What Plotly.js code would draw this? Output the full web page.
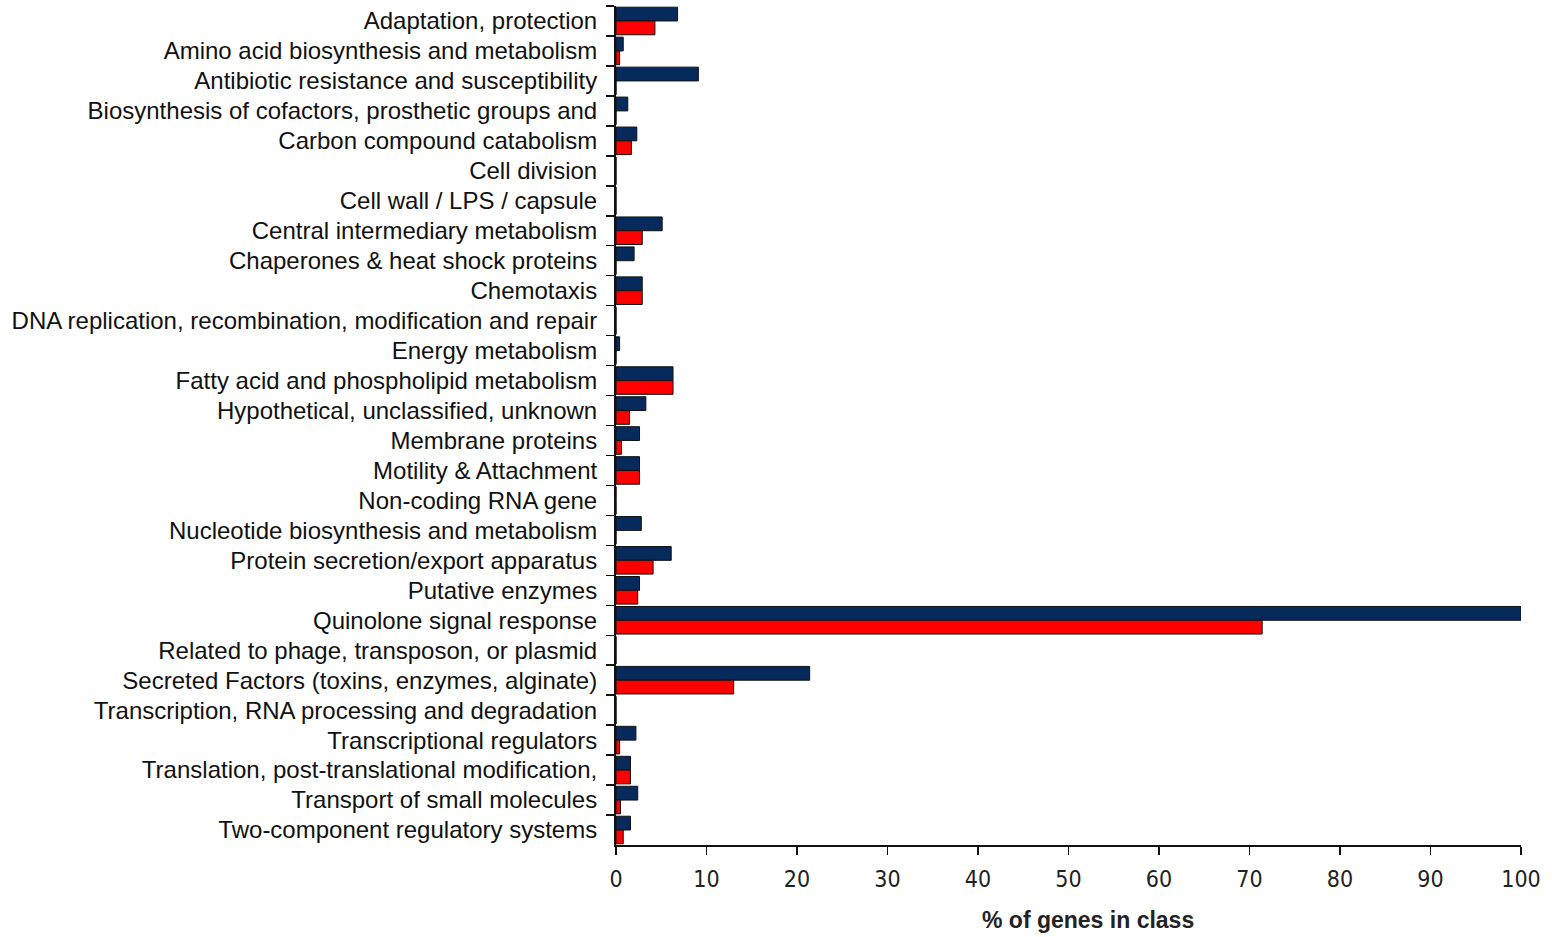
<!DOCTYPE html>
<html>
<head>
<meta charset="utf-8">
<script src="https://cdn.plot.ly/plotly-3.0.1.min.js"></script>
<style>html,body{margin:0;padding:0;background:#fff;}#chart{width:1552px;height:937px;}</style>
</head>
<body>
<div id="chart"></div>
<script>
const categories = [
  "Adaptation, protection",
  "Amino acid biosynthesis and metabolism",
  "Antibiotic resistance and susceptibility",
  "Biosynthesis of cofactors, prosthetic groups and",
  "Carbon compound catabolism",
  "Cell division",
  "Cell wall / LPS / capsule",
  "Central intermediary metabolism",
  "Chaperones & heat shock proteins",
  "Chemotaxis",
  "DNA replication, recombination, modification and repair",
  "Energy metabolism",
  "Fatty acid and phospholipid metabolism",
  "Hypothetical, unclassified, unknown",
  "Membrane proteins",
  "Motility & Attachment",
  "Non-coding RNA gene",
  "Nucleotide biosynthesis and metabolism",
  "Protein secretion/export apparatus",
  "Putative enzymes",
  "Quinolone signal response",
  "Related to phage, transposon, or plasmid",
  "Secreted Factors (toxins, enzymes, alginate)",
  "Transcription, RNA processing and degradation",
  "Transcriptional regulators",
  "Translation, post-translational modification,",
  "Transport of small molecules",
  "Two-component regulatory systems"
];
const seriesBlue = [6.8, 0.8, 9.1, 1.3, 2.3, 0, 0, 5.1, 2.0, 2.9, 0, 0.4, 6.3, 3.3, 2.6, 2.6, 0, 2.8, 6.1, 2.6, 100, 0, 21.4, 0, 2.2, 1.6, 2.4, 1.6];
const seriesRed  = [4.3, 0.4, 0, 0, 1.7, 0, 0, 2.9, 0, 2.9, 0, 0, 6.3, 1.5, 0.6, 2.6, 0, 0, 4.1, 2.4, 71.4, 0, 13.0, 0, 0.4, 1.6, 0.5, 0.8];
const xTicks = [0, 10, 20, 30, 40, 50, 60, 70, 80, 90, 100];
const xTitle = "% of genes in class";

const traces = [
  {type: "bar", orientation: "h", name: "Series 1", y: categories, x: seriesBlue,
   marker: {color: "#062a5c", line: {color: "#111", width: 1}}},
  {type: "bar", orientation: "h", name: "Series 2", y: categories, x: seriesRed,
   marker: {color: "#ff0000", line: {color: "#111", width: 1}}}
];

const layout = {
  width: 1552, height: 937,
  margin: {l: 616, r: 31, t: 6, b: 92},
  paper_bgcolor: "#fff", plot_bgcolor: "#fff",
  showlegend: false,
  barmode: "group", bargap: 0.08, bargroupgap: 0,
  font: {family: "Liberation Sans, Arial, sans-serif", size: 20, color: "#111"},
  xaxis: {
    range: [0, 100], tickvals: xTicks, ticktext: xTicks.map(String),
    showgrid: false, zeroline: false,
    showline: true, linecolor: "#111", linewidth: 2,
    ticks: "outside", ticklen: 8, tickwidth: 1.5, tickcolor: "#111",
    ticklabelstandoff: 4,
    tickfont: {family: "DejaVu Sans Condensed, Liberation Sans Narrow, Liberation Sans, sans-serif", size: 23, color: "#222"}
  },
  yaxis: {
    type: "category", autorange: "reversed",
    showgrid: false, zeroline: false,
    showline: true, linecolor: "#111", linewidth: 2,
    ticks: "outside", ticklen: 8, tickwidth: 1.5, tickcolor: "#111",
    tickson: "boundaries",
    ticklabelstandoff: 12,
    tickfont: {size: 24, color: "#111"}
  },
  annotations: [{
    xref: "paper", yref: "paper", x: 0.5215, y: 0,
    xanchor: "center", yanchor: "top", yshift: -60, showarrow: false,
    text: "<b>" + xTitle + "</b>", font: {size: 23, color: "#222"}
  }]
};

Plotly.newPlot("chart", traces, layout, {displayModeBar: false, staticPlot: true});
</script>
</body>
</html>
